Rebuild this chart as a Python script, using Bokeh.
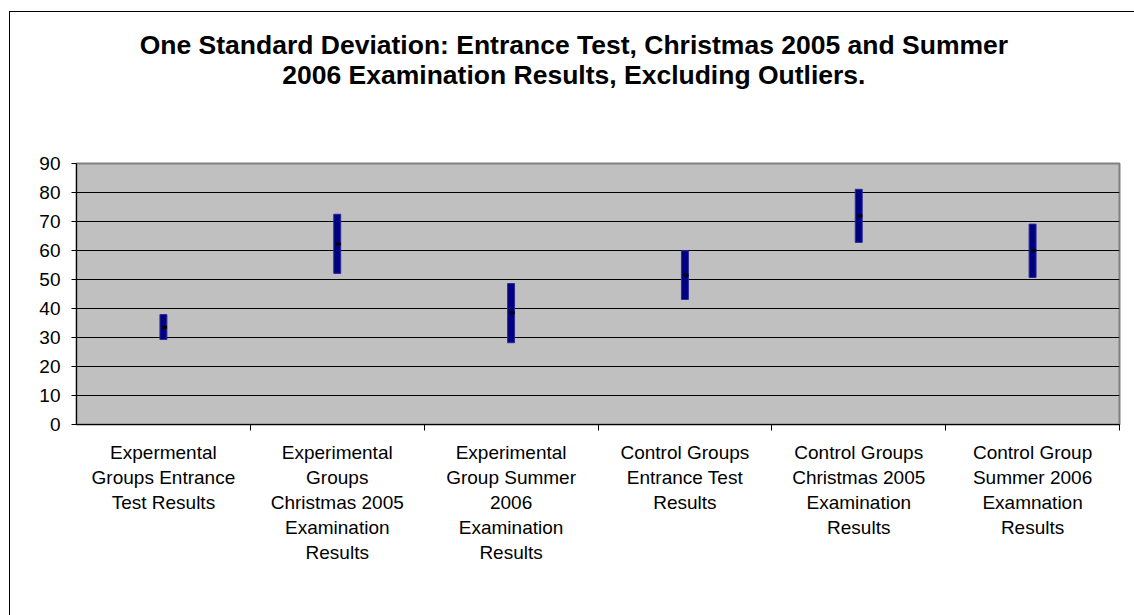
from bokeh.plotting import figure
from bokeh.layouts import column
from bokeh.models import (Range1d, LinearAxis, FixedTicker, ColumnDataSource, Grid)
from bokeh.core.properties import value
from bokeh.transform import dodge
from bokeh.embed import file_html
from bokeh.resources import INLINE

categories = [
    "Expermental\nGroups Entrance\nTest Results",
    "Experimental\nGroups\nChristmas 2005\nExamination\nResults",
    "Experimental\nGroup Summer\n2006\nExamination\nResults",
    "Control Groups\nEntrance Test\nResults",
    "Control Groups\nChristmas 2005\nExamination\nResults",
    "Control Group\nSummer 2006\nExamnation\nResults",
]
sd_high = [37.9, 72.5, 48.6, 59.9, 81.1, 69.1]
sd_low = [29.3, 52.1, 28.2, 43.1, 62.8, 50.7]
means = [33.5, 62.2, 38.5, 51.5, 72.0, 60.0]
y_ticks = [0, 10, 20, 30, 40, 50, 60, 70, 80, 90]
title_lines = ["One Standard Deviation: Entrance Test, Christmas 2005 and Summer",
               "2006 Examination Results, Excluding Outliers."]

FONT = "Liberation Sans"
W = 1124
TITLE_H = 139
MAIN_H = 603 - TITLE_H
n = len(categories)
x_pos = [i + 0.5 for i in range(n)]
boundaries = [i for i in range(1, n + 1)]

# ---- title strip (pixel-mapped ranges) ----
tfig = figure(x_range=Range1d(0, W), y_range=Range1d(0, TITLE_H), width=W, height=TITLE_H,
              output_backend="svg", toolbar_location=None,
              x_axis_location=None, y_axis_location=None,
              min_border=0, outline_line_color=None,
              background_fill_color="white", border_fill_color="white")
tfig.grid.visible = False
tsrc = ColumnDataSource(dict(text=title_lines, x=[536, 536], y=[107, 77]))
tfig.text(x="x", y="y", text="text", source=tsrc, text_align="center",
          text_baseline="middle", text_font=value(FONT), text_font_size="26.5px",
          text_font_style="bold", text_color="black")

# ---- main chart ----
src = ColumnDataSource(dict(x=x_pos, category=categories, sd_high=sd_high,
                            sd_low=sd_low, mean=means))

p = figure(x_range=Range1d(0, n), y_range=Range1d(0, 90),
           width=W, height=MAIN_H, output_backend="svg", toolbar_location=None,
           x_axis_location=None, y_axis_location=None,
           min_border_left=66, min_border_right=15, min_border_top=151 - TITLE_H,
           min_border_bottom=191,
           background_fill_color="#C0C0C0", border_fill_color="white",
           outline_line_color="#808080", outline_line_width=2)

p.grid.visible = False
p.add_layout(Grid(dimension=1, ticker=FixedTicker(ticks=y_ticks),
                  grid_line_color="black", grid_line_width=1), "center")

yaxis = LinearAxis(ticker=FixedTicker(ticks=y_ticks), major_tick_out=5, major_tick_in=0,
                   minor_tick_line_color=None, axis_line_color="black",
                   major_tick_line_color="black",
                   major_label_text_font=FONT, major_label_text_font_size="19px",
                   major_label_text_color="black", major_label_standoff=11)
p.add_layout(yaxis, "left")

xaxis = LinearAxis(ticker=FixedTicker(ticks=x_pos, minor_ticks=boundaries),
                   major_label_overrides={x: c for x, c in zip(x_pos, categories)},
                   axis_line_color="black", axis_line_width=1,
                   major_tick_line_color=None, major_tick_out=0, major_tick_in=0,
                   minor_tick_line_color="black", minor_tick_out=6, minor_tick_in=0,
                   major_label_text_font=FONT, major_label_text_font_size="19px",
                   major_label_text_color="black", major_label_standoff=11,
                   major_label_text_line_height=1.2)
p.add_layout(xaxis, "below")

p.vbar(x="x", top="sd_high", bottom="sd_low", width=0.04, source=src,
       fill_color="#000080", line_color="#2b2b99", line_width=1)
p.rect(x=dodge("x", 0.006), y="mean", width=5, height=3,
       width_units="screen", height_units="screen", source=src,
       fill_color="black", line_color=None)

layout = column(tfig, p, spacing=0,
                styles={"border-top": "1px solid black", "border-left": "1px solid black",
                        "margin-left": "9px", "margin-top": "11px"})

open("out.html", "w").write(file_html(layout, INLINE))
